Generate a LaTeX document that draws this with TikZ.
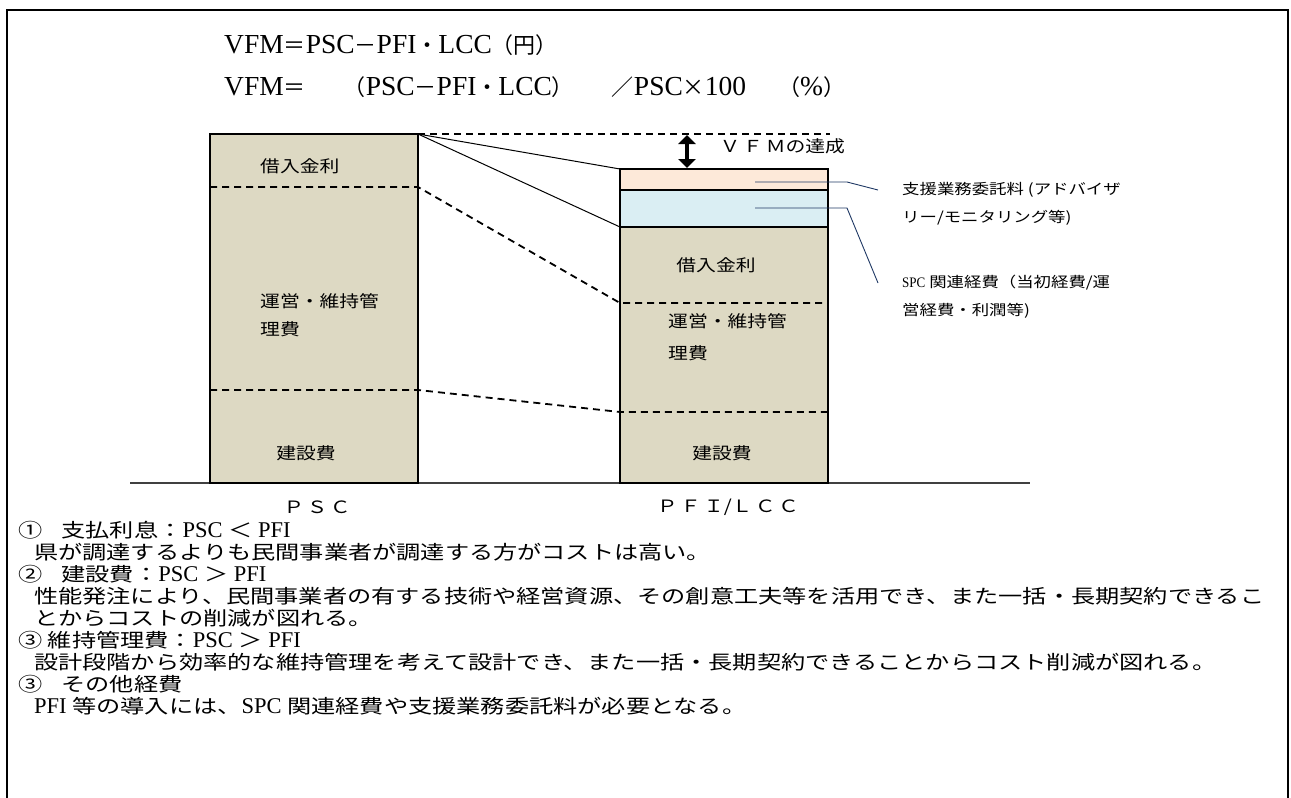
\documentclass[tikz,border=0pt]{standalone}
\usepackage{fontspec}
\setmainfont{Liberation Serif}
\newfontfamily\jp{Noto Sans CJK JP}[FakeStretch=1.2]
\newfontfamily\jpb{Noto Sans CJK JP}[FakeStretch=1.26]
\newfontfamily\jpf{Noto Sans CJK JP}
\usetikzlibrary{arrows.meta}
\definecolor{tanfill}{HTML}{DDD9C3}
\definecolor{peachfill}{HTML}{FDE9D9}
\definecolor{bluefill}{HTML}{DAEEF3}
\definecolor{leadercol}{HTML}{1F3864}
\definecolor{groundcol}{HTML}{404040}
\tikzset{
  barbox/.style={draw=black, line width=2.4pt, inner sep=0pt, outer sep=0pt},
  divline/.style={dashed, dash pattern=on 7pt off 5pt, line width=1.8pt},
  thinlink/.style={line width=1pt},
  leaderline/.style={draw=leadercol, line width=0.9pt},
  barlabel/.style={font=\jp\fontsize{16.5}{28}\selectfont, inner sep=0pt, align=left},
  sidelabel/.style={font=\jp\fontsize{14.5}{28}\selectfont, inner sep=0pt, anchor=west, align=left},
  formula/.style={font=\fontsize{27.5}{30}\selectfont, inner sep=0pt, anchor=west},
  bodyline/.style={font=\fontsize{22.5}{22}\selectfont, inner sep=0pt, anchor=west},
  axislabel/.style={font=\jp\fontsize{17}{20}\selectfont, inner sep=0pt},
}
\newcommand{\fj}[1]{{\jpf\fontsize{22}{30}\selectfont #1}}
\newcommand{\bj}[1]{{\jpb\fontsize{19.2}{22}\selectfont #1}}
\begin{document}
\begin{tikzpicture}[x=1pt,y=-1pt]
\useasboundingbox (0,0) rectangle (1291,798);
% frame (open at bottom)
\draw[line width=1.6pt] (7,798) -- (7,10) -- (1288,10) -- (1288,798);

% formulas
\node[formula] (f1) at (224,45) {VFM\fj{＝}PSC\fj{－}PFI\fj{・}LCC\fj{（円）}};
\node[formula] (f2) at (224,87) {VFM\fj{＝}\hspace{38pt}\fj{（}PSC\fj{－}PFI\fj{・}LCC\fj{）}\hspace{38pt}\fj{／}PSC\fj{×}100\hspace{32pt}\fj{（}\%\fj{）}};

% ground line
\coordinate (g1) at (130,483);
\coordinate (g2) at (1030,483);
\draw[groundcol, line width=1.6pt] (g1) -- (g2);

% PSC bar
\node[barbox, fill=tanfill, minimum width=208pt, minimum height=349pt] (psc) at (314,308.5) {};
% PFI bar
\node[barbox, fill=peachfill, minimum width=208pt, minimum height=21pt] (pfipeach) at (724,179.5) {};
\node[barbox, fill=bluefill, minimum width=208pt, minimum height=37pt] (pfiblue) at (724,208.5) {};
\node[barbox, fill=tanfill, minimum width=208pt, minimum height=256pt] (pfi) at (724,355) {};

% dashed division lines with links
\draw[divline] (psc.west |- 0,187) -- (psc.east |- 0,187) -- (pfi.west |- 0,303) -- (pfi.east |- 0,303);
\draw[divline] (psc.west |- 0,390) -- (psc.east |- 0,390) -- (pfi.west |- 0,412) -- (pfi.east |- 0,412);

% top reference line and links
\coordinate (vtopend) at (830,134);
\draw[dashed, dash pattern=on 7pt off 5pt, line width=1.4pt] (psc.north east) -- (vtopend);
\draw[thinlink] (psc.north east) -- (pfipeach.north west);
\draw[thinlink] (psc.north east) -- (pfi.north west);

% VFM arrow
\coordinate (arrtop) at (687,135);
\coordinate (arrbot) at (687,168);
\draw[line width=4.5pt, {Triangle[width=17pt,length=9pt]}-{Triangle[width=17pt,length=9pt]}] (arrtop) -- (arrbot);
\node[font=\jp\fontsize{16.5}{20}\selectfont, inner sep=0pt, anchor=west] (vfmlabel) at (720,146) {Ｖ\hspace{3pt}Ｆ\hspace{3pt}Ｍの達成};

% bar labels
\node[barlabel, anchor=west] (pscrate) at (260,166) {借入金利};
\node[barlabel, anchor=north west] (pscope) at (260,293) {運営・維持管\\理費};
\node[barlabel] (psccon) at (306,453) {建設費};
\node[barlabel] (pfirate) at (716,265) {借入金利};
\node[barlabel, font=\jp\fontsize{16.5}{32}\selectfont, anchor=north west] (pfiope) at (668,313) {運営・維持管\\理費};
\node[barlabel] (pficon) at (722,453) {建設費};

% side labels
\node[sidelabel] (lab1) at (902,204) {支援業務委託料 (アドバイザ\\リー/モニタリング等)};
\node[sidelabel] (lab2) at (902,297) {{\fontspec{Liberation Serif}[FakeStretch=0.9]SPC} 関連経費（当初経費/運\\営経費・利潤等)};
\coordinate (l1a) at (755,182);
\coordinate (l1b) at (847,182);
\coordinate (l1c) at (878,190);
\coordinate (l2a) at (755,208);
\coordinate (l2b) at (847,208);
\coordinate (l2c) at (878,283);
\draw[leaderline] (l1a) -- (l1b) -- (l1c);
\draw[leaderline] (l2a) -- (l2b) -- (l2c);

% axis labels
\node[axislabel] (xpsc) at (317,507) {Ｐ\,Ｓ\,Ｃ};
\node[axislabel] (xpfi) at (728,507) {Ｐ\,Ｆ\,Ｉ/Ｌ\,Ｃ\,Ｃ};

% body text
\node[bodyline] (t1) at (18,530) {\bj{①\quad 支払利息：}PSC \bj{＜} PFI};
\node[bodyline] (t2) at (34,552) {\bj{県が調達するよりも民間事業者が調達する方がコストは高い。}};
\node[bodyline] (t3) at (18,574) {\bj{②\quad 建設費：}PSC \bj{＞} PFI};
\node[bodyline] (t4) at (34,596) {\bj{性能発注により、民間事業者の有する技術や経営資源、その創意工夫等を活用でき、また一括・長期契約できるこ}};
\node[bodyline] (t5) at (34,618) {\bj{とからコストの削減が図れる。}};
\node[bodyline] (t6) at (18,640) {\bj{③ 維持管理費：}PSC \bj{＞} PFI};
\node[bodyline] (t7) at (34,662) {\bj{設計段階から効率的な維持管理を考えて設計でき、また一括・長期契約できることからコスト削減が図れる。}};
\node[bodyline] (t8) at (18,684) {\bj{③\quad その他経費}};
\node[bodyline] (t9) at (34,706) {PFI \bj{等の導入には、}SPC \bj{関連経費や支援業務委託料が必要となる。}};
\end{tikzpicture}
\end{document}
